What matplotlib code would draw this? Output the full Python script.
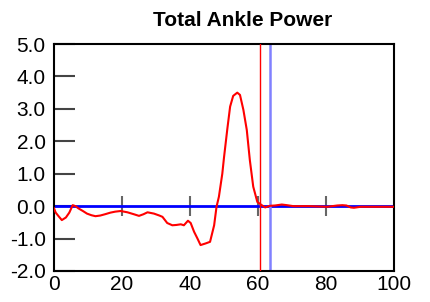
import matplotlib.pyplot as plt

plt.rcParams['font.family'] = ['Liberation Sans', 'DejaVu Sans']

# percent of gait cycle and ankle power (W/kg)
cycle = [0, 0.5, 1.5, 2.3, 3.5, 4.5, 5.5, 6.3, 7.2, 8.5, 9.7, 11, 12.2, 13.6,
         15, 16.6, 18, 19.6, 21.6, 23.5, 25, 26.3, 27.5, 29.4, 31, 31.9, 33.3,
         34.8, 36, 37.3, 38.2, 39.4, 40.2, 41.2, 42.2, 43.1, 44.6, 45.9, 47.1,
         47.8, 48.5, 49.5, 50.0, 51, 51.8, 52.7, 53.9, 54.7, 55.7, 56.7, 57.6,
         58.6, 59.8, 61.1, 62.1, 63.5, 65, 67, 68.5, 70.4, 75, 80.4, 83.3, 84.8,
         86, 87.3, 88.2, 90.2, 95, 98, 100]
power = [-0.07, -0.2, -0.33, -0.43, -0.35, -0.2, 0.03, 0.0, -0.07, -0.15,
         -0.23, -0.28, -0.31, -0.29, -0.25, -0.2, -0.17, -0.15, -0.19, -0.25,
         -0.3, -0.25, -0.19, -0.23, -0.29, -0.33, -0.52, -0.59, -0.58, -0.56,
         -0.59, -0.45, -0.52, -0.79, -1.0, -1.2, -1.15, -1.1, -0.59, -0.02,
         0.29, 1.0, 1.5, 2.4, 3.07, 3.4, 3.5, 3.43, 2.97, 2.35, 1.42, 0.6, 0.13,
         0.03, -0.04, 0.01, 0.02, 0.05, 0.03, 0.0, 0.0, -0.02, 0.02, 0.03, 0.02,
         -0.04, -0.05, -0.02, -0.02, -0.02, -0.02]

toe_off_left = 60.6
toe_off_right = 63.5

y_ticks = [-2, -1, 0, 1, 2, 3, 4, 5]
x_ticks = [0, 20, 40, 60, 80, 100]

fig = plt.figure(figsize=(4.3, 3.02), dpi=100)
ax = fig.add_axes([54 / 430, 31 / 302, 340 / 430, 227 / 302])

ax.axhline(0, color='#0000ff', lw=2, zorder=2)
ax.axvline(toe_off_right, color='#8080ff', lw=1.8, zorder=2)
ax.axvline(toe_off_left, color='red', lw=1, zorder=3)
ax.plot(cycle, power, color='red', lw=1.5, zorder=4)

ax.set_xlim(0, 100)
ax.set_ylim(-2, 5)
ax.set_yticks(y_ticks)
ax.set_yticklabels(['%.1f' % v for v in y_ticks])
ax.set_xticks(x_ticks)
ax.tick_params(axis='y', direction='in', length=15, width=1.5, color='#444',
               labelsize=15, pad=6)
ax.tick_params(axis='x', length=0, labelsize=15, pad=3)
for s in ax.spines.values():
    s.set_linewidth(1.5)

# tick marks sitting on the zero line
zero_axis = ax.secondary_xaxis(2 / 7)
zero_axis.set_xticks([20, 40, 60, 80])
zero_axis.tick_params(direction='inout', length=15, width=1.5, color='#666',
                      labelbottom=False, labeltop=False)
for s in zero_axis.spines.values():
    s.set_visible(False)

fig.text(243 / 430, 1 - 20 / 302, 'Total Ankle Power', ha='center', va='center',
         fontsize=15, fontweight='bold')

fig.savefig('out.png')
